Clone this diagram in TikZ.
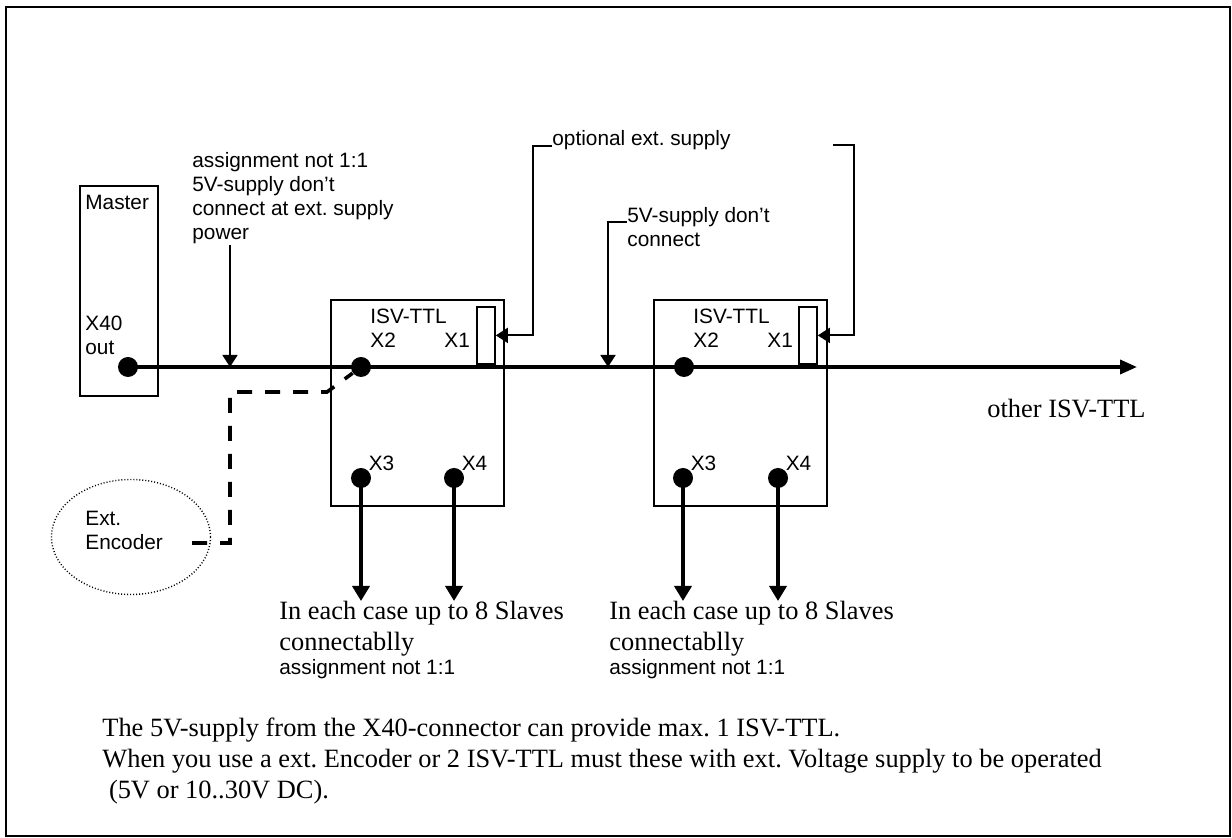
\documentclass[tikz,border=0pt]{standalone}
\usepackage{fontspec}
\setmainfont{Liberation Serif}
\setsansfont{Liberation Sans}
\usetikzlibrary{arrows.meta, positioning, shapes.geometric}
\frenchspacing

\tikzset{
  isvbox/.style={draw, line width=0.9pt, inner sep=0pt, anchor=north west},
  port/.style={circle, fill, inner sep=0pt, minimum size=10pt},
  sanslbl/.style={font=\sffamily\fontsize{10.4}{12}\selectfont, inner sep=0pt},
  seriflbl/.style={font=\rmfamily\fontsize{13.2}{15.4}\selectfont, inner sep=0pt},
  busline/.style={line width=1.8pt, -{Triangle[length=8.5pt, width=7pt]}},
  callout/.style={line width=0.9pt, -{Triangle[length=6pt, width=7.5pt]}},
  slavearrow/.style={line width=1.8pt, -{Triangle[length=7.5pt, width=8.5pt]}},
  encline/.style={line width=1.8pt, dash pattern=on 7.5pt off 6.5pt}
}

\begin{document}
\begin{tikzpicture}[x=0.5pt, y=-0.5pt]
  \useasboundingbox (0,0) rectangle (1232,838);
  \draw[line width=1.2pt] (6,7) rectangle (1230,836);

  % master
  \node[isvbox, minimum width=39pt, minimum height=105pt] (master) at (79,185) {};
  \node[sanslbl, anchor=west] (mastername) at (85,202) {Master};
  \node[sanslbl, align=left, anchor=north west] (x40) at (85,315.5) {X40\\out};
  \node[port] (x40dot) at (128,367) {};

  % first ISV-TTL
  \node[isvbox, minimum width=86.5pt, minimum height=103pt] (isva) at (330,299) {};
  \node[sanslbl, anchor=west] (isvaname) at (370,316) {ISV-TTL};
  \node[sanslbl, anchor=west] (isvaxb) at (370,340) {X2};
  \node[sanslbl, anchor=west] (isvaxa) at (444,340) {X1};
  \node[isvbox, minimum width=9pt, minimum height=28.5pt] (isvaplug) at (476,306) {};
  \node[port] (isvaxbdot) at (361,367) {};
  \node[port] (isvaxcdot) at (361,478) {};
  \node[port] (isvaxddot) at (454,478) {};
  \node[sanslbl, anchor=south west] (isvaxc) at (isvaxcdot.north east) {X3};
  \node[sanslbl, anchor=south west] (isvaxd) at (isvaxddot.north east) {X4};

  % second ISV-TTL
  \node[isvbox, minimum width=86.5pt, minimum height=103pt] (isvb) at (653,299) {};
  \node[sanslbl, anchor=west] (isvbname) at (693,316) {ISV-TTL};
  \node[sanslbl, anchor=west] (isvbxb) at (693,340) {X2};
  \node[sanslbl, anchor=west] (isvbxa) at (767,340) {X1};
  \node[isvbox, minimum width=9pt, minimum height=28.5pt] (isvbplug) at (798,306) {};
  \node[port] (isvbxbdot) at (684,367) {};
  \node[port] (isvbxcdot) at (683,478) {};
  \node[port] (isvbxddot) at (778,478) {};
  \node[sanslbl, anchor=south west] (isvbxc) at (isvbxcdot.north east) {X3};
  \node[sanslbl, anchor=south west] (isvbxd) at (isvbxddot.north east) {X4};

  % bus
  \coordinate (busend) at (1137,367);
  \draw[busline] (x40dot.center) -- (busend);
  \node[seriflbl, anchor=west] (other) at (987,409) {other ISV-TTL};

  % notes
  \node[sanslbl, align=left, anchor=north west] (notea) at (192,152.5)
    {assignment not 1:1\\5V-supply don’t\\connect at ext. supply\\power};
  \coordinate (noteatip) at (230,367);
  \draw[callout] (noteatip |- notea.south) -- (noteatip);

  \node[sanslbl, anchor=base west] (optsup) at (552,146) {optional ext. supply};
  \draw[callout] (optsup.base west) -- ++(-19,0) |- (isvaplug.east);
  \coordinate (brk) at (833,145);
  \draw[callout] (brk) -- ++(21,0) |- (isvbplug.east);

  \node[sanslbl, align=left, anchor=north west] (notec) at (627,207.5)
    {5V-supply don’t\\connect};
  \coordinate (notectip) at (608,367);
  \draw[callout] ([yshift=-7.25pt]notec.north west) -- ++(-19,0) -- (notectip);

  % encoder
  \node[ellipse, draw, line width=0.7pt, dash pattern=on 0.5pt off 1pt,
        minimum width=79.5pt, minimum height=57.5pt] (encoder) at (131,537) {};
  \node[sanslbl, align=left, anchor=north west] (enctext) at (85,510.5) {Ext.\\Encoder};
  \coordinate (encout) at (192,543);
  \draw[encline] (encout) -- (230,543) -- (230,392) -- (327,392) -- (isvaxbdot);

  % slaves
  \node[seriflbl, align=left, anchor=north west] (slavesa) at (279,601)
    {In each case up to 8 Slaves\\connectablly};
  \node[sanslbl, below=1pt of slavesa.south west, anchor=north west] (asgna) {assignment not 1:1};
  \node[seriflbl, align=left, anchor=north west] (slavesb) at (609,601)
    {In each case up to 8 Slaves\\connectablly};
  \node[sanslbl, below=1pt of slavesb.south west, anchor=north west] (asgnb) {assignment not 1:1};
  \draw[slavearrow] (isvaxcdot.center) -- (isvaxcdot.center |- slavesa.north);
  \draw[slavearrow] (isvaxddot.center) -- (isvaxddot.center |- slavesa.north);
  \draw[slavearrow] (isvbxcdot.center) -- (isvbxcdot.center |- slavesb.north);
  \draw[slavearrow] (isvbxddot.center) -- (isvbxddot.center |- slavesb.north);

  \node[seriflbl, align=left, anchor=north west] (footnote) at (102,718)
    {The 5V-supply from the X40-connector can provide max. 1 ISV-TTL.\\
     When you use a ext. Encoder or 2 ISV-TTL must these with ext. Voltage supply to be operated\\
     \hspace*{0.25em}(5V or 10..30V DC).};
\end{tikzpicture}
\end{document}
